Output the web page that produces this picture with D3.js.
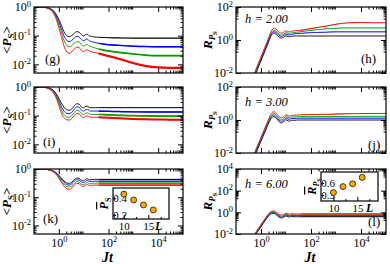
<!DOCTYPE html>
<html>
<head>
<meta charset="utf-8">
<script src="https://cdn.jsdelivr.net/npm/d3@7"></script>
<style>
  body { margin: 0; background: #fff; }
  svg { display: block; font-family: "Liberation Serif", "Times New Roman", serif; }
</style>
</head>
<body>
<svg width="390" height="264"></svg>
<script>
// Time grid (Jt) shared by all curves
const times = [0.1, 0.2, 0.3, 0.45, 0.65, 0.9, 1.2, 1.6, 2.1, 2.6, 3.3, 4.2, 5.3, 6.6, 8.2, 10, 12, 14, 17, 21, 27, 40, 70, 150, 400, 1000, 3000, 1e4, 3e4, 1e5];
const sizes = [10, 12, 14, 16];
const colors = ["#000000", "#0000ff", "#00a000", "#ff0000"];

// (g) <P_S>, h = 2.00
const gL10 = [1, 0.995, 0.97, 0.88, 0.7, 0.45, 0.26, 0.14, 0.1, 0.092, 0.1, 0.122, 0.138, 0.132, 0.108, 0.098, 0.108, 0.112, 0.098, 0.094, 0.09, 0.088, 0.086, 0.084, 0.083, 0.082, 0.082, 0.082, 0.082, 0.082];
const gL12 = [1, 0.994, 0.96, 0.86, 0.65, 0.38, 0.2, 0.1, 0.068, 0.062, 0.068, 0.083, 0.094, 0.09, 0.073, 0.066, 0.073, 0.076, 0.066, 0.062, 0.058, 0.054, 0.05, 0.047, 0.045, 0.043, 0.042, 0.041, 0.041, 0.041];
const gL14 = [1, 0.993, 0.95, 0.83, 0.6, 0.32, 0.15, 0.07, 0.045, 0.041, 0.045, 0.055, 0.062, 0.06, 0.048, 0.044, 0.048, 0.05, 0.044, 0.041, 0.038, 0.034, 0.031, 0.028, 0.025, 0.023, 0.021, 0.02, 0.02, 0.02];
const gL16 = [1, 0.992, 0.94, 0.8, 0.55, 0.26, 0.11, 0.045, 0.027, 0.024, 0.027, 0.035, 0.04, 0.038, 0.03, 0.028, 0.031, 0.032, 0.029, 0.027, 0.026, 0.024, 0.021, 0.018, 0.014, 0.011, 0.0088, 0.0078, 0.0075, 0.0075];

// (i) <P_S>, h = 3.00
const iL10 = [1, 0.995, 0.97, 0.89, 0.72, 0.48, 0.3, 0.2, 0.16, 0.155, 0.17, 0.22, 0.26, 0.25, 0.2, 0.19, 0.21, 0.215, 0.195, 0.19, 0.19, 0.19, 0.19, 0.19, 0.19, 0.19, 0.19, 0.19, 0.19, 0.19];
const iL12 = [1, 0.994, 0.96, 0.87, 0.67, 0.41, 0.23, 0.145, 0.12, 0.118, 0.13, 0.17, 0.205, 0.195, 0.155, 0.145, 0.16, 0.165, 0.15, 0.145, 0.145, 0.145, 0.142, 0.14, 0.138, 0.136, 0.135, 0.135, 0.135, 0.135];
const iL14 = [1, 0.993, 0.95, 0.84, 0.62, 0.35, 0.18, 0.11, 0.09, 0.088, 0.1, 0.13, 0.155, 0.148, 0.118, 0.11, 0.122, 0.125, 0.113, 0.11, 0.11, 0.11, 0.108, 0.105, 0.102, 0.1, 0.098, 0.097, 0.097, 0.097];
const iL16 = [1, 0.992, 0.94, 0.81, 0.57, 0.3, 0.14, 0.085, 0.072, 0.07, 0.08, 0.1, 0.12, 0.115, 0.092, 0.086, 0.095, 0.098, 0.09, 0.088, 0.088, 0.088, 0.086, 0.083, 0.08, 0.077, 0.075, 0.073, 0.072, 0.072];

// (k) <P_S>, h = 6.00
const kL10 = [1, 0.997, 0.98, 0.93, 0.82, 0.66, 0.5, 0.38, 0.32, 0.31, 0.34, 0.42, 0.48, 0.46, 0.4, 0.38, 0.43, 0.45, 0.41, 0.42, 0.43, 0.43, 0.43, 0.43, 0.43, 0.43, 0.43, 0.43, 0.43, 0.43];
const kL12 = [1, 0.997, 0.975, 0.92, 0.8, 0.63, 0.46, 0.34, 0.28, 0.27, 0.3, 0.37, 0.42, 0.4, 0.35, 0.33, 0.37, 0.39, 0.36, 0.365, 0.37, 0.37, 0.37, 0.37, 0.37, 0.37, 0.37, 0.37, 0.37, 0.37];
const kL14 = [1, 0.996, 0.973, 0.91, 0.78, 0.59, 0.41, 0.29, 0.24, 0.23, 0.25, 0.31, 0.36, 0.34, 0.29, 0.28, 0.31, 0.33, 0.3, 0.31, 0.315, 0.315, 0.315, 0.315, 0.315, 0.315, 0.315, 0.315, 0.315, 0.315];
const kL16 = [1, 0.996, 0.97, 0.9, 0.75, 0.55, 0.36, 0.25, 0.2, 0.19, 0.21, 0.27, 0.31, 0.3, 0.25, 0.24, 0.27, 0.28, 0.26, 0.265, 0.27, 0.27, 0.27, 0.27, 0.27, 0.27, 0.27, 0.27, 0.27, 0.27];

// (h) R_{P_S}, h = 2.00
const hL10 = [1e-5, 1.2e-4, 6e-4, 2.8e-3, 0.011, 0.038, 0.11, 0.32, 0.9, 1.9, 2.6, 2.1, 1.5, 1.3, 1.5, 1.8, 1.65, 1.55, 1.7, 1.75, 1.75, 1.75, 1.75, 1.75, 1.75, 1.75, 1.75, 1.75, 1.75, 1.75];
const hL12 = [1.2e-5, 1.5e-4, 7e-4, 3.3e-3, 0.013, 0.045, 0.13, 0.38, 1.1, 2.3, 3.2, 2.6, 1.9, 1.65, 1.9, 2.3, 2.1, 2.0, 2.2, 2.35, 2.45, 2.55, 2.7, 2.85, 3.0, 3.1, 3.1, 3.1, 3.1, 3.1];
const hL14 = [1.4e-5, 1.8e-4, 8.5e-4, 4e-3, 0.016, 0.054, 0.16, 0.46, 1.3, 2.8, 3.9, 3.2, 2.3, 2.0, 2.3, 2.8, 2.6, 2.5, 2.7, 2.8, 2.95, 3.2, 3.6, 4.1, 4.7, 5.2, 5.4, 5.4, 5.4, 5.4];
const hL16 = [1.6e-5, 2.1e-4, 1e-3, 4.7e-3, 0.019, 0.065, 0.19, 0.55, 1.6, 3.5, 5.2, 4.2, 3.0, 2.6, 3.0, 3.6, 3.3, 3.1, 3.4, 3.6, 3.7, 3.9, 4.5, 5.5, 7, 9, 11, 11.5, 11, 11];

// (j) R_{P_S}, h = 3.00
const jL10 = [1e-5, 1.2e-4, 6e-4, 2.8e-3, 0.011, 0.036, 0.1, 0.28, 0.72, 1.3, 1.6, 1.2, 0.8, 0.66, 0.8, 1.05, 0.9, 0.85, 0.98, 0.95, 1.0, 1.0, 1.0, 1.0, 1.0, 1.0, 1.0, 1.0, 1.0, 1.0];
const jL12 = [1.2e-5, 1.5e-4, 7e-4, 3.3e-3, 0.013, 0.043, 0.12, 0.34, 0.86, 1.6, 2.0, 1.5, 1.0, 0.84, 1.0, 1.35, 1.15, 1.1, 1.25, 1.22, 1.28, 1.3, 1.3, 1.3, 1.3, 1.3, 1.3, 1.3, 1.3, 1.3];
const jL14 = [1.4e-5, 1.8e-4, 8.5e-4, 4e-3, 0.016, 0.052, 0.145, 0.41, 1.05, 1.95, 2.5, 1.85, 1.25, 1.05, 1.25, 1.65, 1.42, 1.35, 1.55, 1.5, 1.58, 1.6, 1.6, 1.62, 1.63, 1.65, 1.65, 1.66, 1.67, 1.67];
const jL16 = [1.6e-5, 2.1e-4, 1e-3, 4.7e-3, 0.019, 0.062, 0.17, 0.5, 1.3, 2.5, 3.2, 2.35, 1.6, 1.35, 1.6, 2.1, 1.8, 1.72, 1.95, 1.9, 2.0, 2.05, 2.1, 2.15, 2.2, 2.3, 2.4, 2.45, 2.5, 2.5];

// (l) R_{P_S}, h = 6.00
const lL10 = [1e-5, 1.2e-4, 6e-4, 2.8e-3, 0.011, 0.033, 0.09, 0.23, 0.5, 0.75, 0.8, 0.55, 0.36, 0.3, 0.36, 0.46, 0.4, 0.37, 0.42, 0.39, 0.39, 0.39, 0.39, 0.39, 0.39, 0.39, 0.39, 0.39, 0.39, 0.39];
const lL12 = [1.2e-5, 1.4e-4, 7e-4, 3.3e-3, 0.013, 0.039, 0.105, 0.27, 0.6, 0.9, 0.98, 0.68, 0.45, 0.38, 0.45, 0.58, 0.5, 0.47, 0.53, 0.5, 0.5, 0.5, 0.5, 0.5, 0.5, 0.5, 0.5, 0.5, 0.5, 0.5];
const lL14 = [1.4e-5, 1.7e-4, 8e-4, 3.8e-3, 0.015, 0.045, 0.12, 0.31, 0.7, 1.05, 1.12, 0.78, 0.52, 0.44, 0.52, 0.66, 0.58, 0.54, 0.61, 0.57, 0.57, 0.57, 0.57, 0.57, 0.57, 0.57, 0.57, 0.57, 0.57, 0.57];
const lL16 = [1.6e-5, 2e-4, 9.5e-4, 4.4e-3, 0.017, 0.052, 0.14, 0.36, 0.82, 1.25, 1.35, 0.95, 0.64, 0.54, 0.64, 0.82, 0.72, 0.67, 0.76, 0.71, 0.71, 0.71, 0.71, 0.71, 0.71, 0.71, 0.71, 0.71, 0.71, 0.71];

// Half-width of the late-time fluctuations (in decades), per L
const gSpread = [0.01, 0.025, 0.03, 0.04];
const iSpread = [0.01, 0.025, 0.03, 0.035];
const kSpread = [0.01, 0.015, 0.02, 0.02];
const hSpread = [0, 0.004, 0.006, 0.01];
const jSpread = [0, 0.004, 0.006, 0.01];
const lSpread = [0.015, 0.02, 0.025, 0.03];

// Insets: time averages vs L
const insetL = [10, 12, 14, 16];
const insetPs = [0.45, 0.38, 0.32, 0.26];
const insetR = [0.36, 0.51, 0.58, 0.74];

const svg = d3.select("svg");
const xDomain = [0.1, 1e5];
const xMajor = [1, 100, 1e4];
const minorOf = (decades, lo, hi) =>
  decades.flatMap(p => d3.range(2, 10).map(k => k * Math.pow(10, p))).filter(v => v > lo && v < hi);

// superscript tick labels 10^n
function powLabels(g, size) {
  g.selectAll(".tick text").each(function (d) {
    const e = Math.round(Math.log10(d));
    const t = d3.select(this).text("10");
    t.append("tspan").attr("dy", "-0.55em").attr("font-size", size * 0.7).text(e);
  });
}

function drawPanel(p) {
  const x = d3.scaleLog().domain(xDomain).range([p.x0, p.x1]);
  const y = d3.scaleLog().domain(p.yDomain).range([p.y1, p.y0]);
  const g = svg.append("g");

  const clipId = "clip-" + p.id;
  g.append("clipPath").attr("id", clipId)
    .append("rect").attr("x", p.x0).attr("y", p.y0)
    .attr("width", p.x1 - p.x0).attr("height", p.y1 - p.y0);

  const plot = g.append("g").attr("clip-path", `url(#${clipId})`);
  const line = d3.line().x(d => x(d[0])).y(d => y(d[1])).curve(d3.curveMonotoneX);
  const band = d3.area().x(d => x(d[0]))
    .y0(d => y(d[1] * Math.pow(10, -d[2]))).y1(d => y(d[1] * Math.pow(10, d[2])))
    .curve(d3.curveMonotoneX);

  p.series.forEach((vals, i) => {
    const pts = times.map((t, k) => [t, vals[k], p.spread[i]]);
    if (p.spread[i] > 0) {
      plot.append("path").datum(pts.filter(d => d[0] >= 40))
        .attr("d", band).attr("fill", colors[i]);
    }
    plot.append("path").datum(pts)
      .attr("d", line).attr("fill", "none").attr("stroke", colors[i]).attr("stroke-width", 0.9);
  });

  // axes: major + minor ticks on all four sides, pointing inward
  const xMinor = minorOf([0, 2, 4], xDomain[0], xDomain[1]);
  const yMinor = minorOf(p.yMinorDecades, p.yDomain[0], p.yDomain[1]);
  const fs = 12;

  const bottom = g.append("g").attr("transform", `translate(0,${p.y1})`)
    .call(d3.axisBottom(x).tickValues(xMajor).tickSize(-5).tickPadding(4));
  if (p.xLabels) powLabels(bottom, fs); else bottom.selectAll("text").remove();
  g.append("g").attr("transform", `translate(0,${p.y1})`)
    .call(d3.axisBottom(x).tickValues(xMinor).tickSize(-2.5).tickFormat(""));
  g.append("g").attr("transform", `translate(0,${p.y0})`)
    .call(d3.axisTop(x).tickValues(xMajor).tickSize(-5).tickFormat(""));
  g.append("g").attr("transform", `translate(0,${p.y0})`)
    .call(d3.axisTop(x).tickValues(xMinor).tickSize(-2.5).tickFormat(""));

  const left = g.append("g").attr("transform", `translate(${p.x0},0)`)
    .call(d3.axisLeft(y).tickValues(p.yMajor).tickSize(-5).tickPadding(3));
  powLabels(left, fs);
  g.append("g").attr("transform", `translate(${p.x0},0)`)
    .call(d3.axisLeft(y).tickValues(yMinor).tickSize(-2.5).tickFormat(""));
  g.append("g").attr("transform", `translate(${p.x1},0)`)
    .call(d3.axisRight(y).tickValues(p.yMajor).tickSize(-5).tickFormat(""));
  g.append("g").attr("transform", `translate(${p.x1},0)`)
    .call(d3.axisRight(y).tickValues(yMinor).tickSize(-2.5).tickFormat(""));

  g.selectAll(".domain").remove();
  g.selectAll(".tick line").attr("stroke", "#000").attr("stroke-width", 1);
  g.selectAll(".tick text").attr("font-size", fs).attr("fill", "#000")
    .attr("font-family", "Liberation Serif, serif");

  g.append("rect").attr("x", p.x0).attr("y", p.y0)
    .attr("width", p.x1 - p.x0).attr("height", p.y1 - p.y0)
    .attr("fill", "none").attr("stroke", "#000").attr("stroke-width", 1.2);

  // panel letter
  g.append("text").attr("x", p.tagX).attr("y", p.tagY)
    .attr("font-size", 13).text(p.tag);

  if (p.hText) {
    g.append("text").attr("x", p.x0 + 9).attr("y", p.hY)
      .attr("font-size", 12.5).attr("font-style", "italic").text(p.hText);
  }

  // y axis title
  const yt = g.append("text")
    .attr("transform", `translate(${p.yTitleX},${(p.y0 + p.y1) / 2}) rotate(-90)`)
    .attr("text-anchor", "middle").attr("font-size", 13).attr("font-weight", "bold");
  if (p.kind === "P") {
    yt.append("tspan").text("<");
    yt.append("tspan").attr("font-style", "italic").text("P");
    yt.append("tspan").attr("font-size", 9).attr("dy", 3).text("S");
    yt.append("tspan").attr("dy", -3).text(">");
  } else {
    yt.append("tspan").attr("font-style", "italic").text("R");
    yt.append("tspan").attr("font-style", "italic").attr("font-size", 9).attr("dy", 3).text("P");
    yt.append("tspan").attr("font-size", 7).attr("dy", 2).text("S");
  }

  if (p.xLabels) {
    g.append("text").attr("x", (p.x0 + p.x1) / 2 - 1).attr("y", 262)
      .attr("text-anchor", "middle").attr("font-size", 14)
      .attr("font-weight", "bold").attr("font-style", "italic").text("Jt");
  }
  return { x, y, g };
}

const L0 = 34, L1 = 183, R0 = 236, R1 = 386;
const rows = [[7, 73], [87, 153], [169, 234]];
const pDomain = [0.005, 1];

drawPanel({ id: "g", x0: L0, x1: L1, y0: rows[0][0], y1: rows[0][1], yDomain: pDomain,
  yMajor: [1, 0.1, 0.01], yMinorDecades: [-1, -2, -3], series: [gL10, gL12, gL14, gL16], spread: gSpread,
  tag: "(g)", tagX: 45, tagY: 63, kind: "P", yTitleX: 11 });
drawPanel({ id: "i", x0: L0, x1: L1, y0: rows[1][0], y1: rows[1][1], yDomain: pDomain,
  yMajor: [1, 0.1, 0.01], yMinorDecades: [-1, -2, -3], series: [iL10, iL12, iL14, iL16], spread: iSpread,
  tag: "(i)", tagX: 43, tagY: 146, kind: "P", yTitleX: 11 });
drawPanel({ id: "k", x0: L0, x1: L1, y0: rows[2][0], y1: rows[2][1], yDomain: pDomain,
  yMajor: [1, 0.1, 0.01], yMinorDecades: [-1, -2, -3], series: [kL10, kL12, kL14, kL16], spread: kSpread,
  tag: "(k)", tagX: 43, tagY: 223, kind: "P", yTitleX: 11, xLabels: true });

drawPanel({ id: "h", x0: R0, x1: R1, y0: rows[0][0], y1: rows[0][1], yDomain: [0.01, 100],
  yMajor: [100, 1, 0.01], yMinorDecades: [1, -1], series: [hL10, hL12, hL14, hL16], spread: hSpread,
  tag: "(h)", tagX: 361, tagY: 63, kind: "R", yTitleX: 212, hText: "h = 2.00", hY: 23 });
drawPanel({ id: "j", x0: R0, x1: R1, y0: rows[1][0], y1: rows[1][1], yDomain: [0.01, 100],
  yMajor: [100, 1, 0.01], yMinorDecades: [1, -1], series: [jL10, jL12, jL14, jL16], spread: jSpread,
  tag: "(j)", tagX: 368, tagY: 149, kind: "R", yTitleX: 212, hText: "h = 3.00", hY: 106 });
drawPanel({ id: "l", x0: R0, x1: R1, y0: rows[2][0], y1: rows[2][1], yDomain: [0.01, 1e4],
  yMajor: [1e4, 100, 1, 0.01], yMinorDecades: [3, 1, -1], series: [lL10, lL12, lL14, lL16], spread: lSpread,
  tag: "(l)", tagX: 368, tagY: 226, kind: "R", yTitleX: 212, hText: "h = 6.00", hY: 188, xLabels: true });

// insets: white box, tick labels sit just inside the left edge
function drawInset(o) {
  const x = d3.scaleLinear().domain(o.xDomain).range([o.x0, o.x1]);
  const y = d3.scaleLinear().domain(o.yDomain).range([o.y1, o.y0]);
  const g = svg.append("g");
  g.append("rect").attr("x", o.x0).attr("y", o.y0).attr("width", o.x1 - o.x0).attr("height", o.y1 - o.y0)
    .attr("fill", "#fff").attr("stroke", "#000").attr("stroke-width", 1.2);
  g.append("g").attr("transform", `translate(0,${o.y1})`)
    .call(d3.axisBottom(x).tickValues([10, 15]).tickSize(-4).tickPadding(3));
  g.append("g").attr("transform", `translate(0,${o.y1})`)
    .call(d3.axisBottom(x).tickValues([12.5, 17.5]).tickSize(-2).tickFormat(""));
  g.append("g").attr("transform", `translate(${o.x0},0)`)
    .call(d3.axisLeft(y).tickValues(o.yTicks).tickSize(-3).tickFormat(""));
  g.append("g").attr("transform", `translate(${o.x0 + o.labelInset},0)`)
    .call(d3.axisLeft(y).tickValues(o.yTicks).tickSize(0).tickPadding(0).tickFormat(d3.format(".1f")));
  g.selectAll(".domain").remove();
  g.selectAll(".tick line").attr("stroke", "#000");
  g.selectAll(".tick text").attr("font-size", 11).attr("fill", "#000").attr("font-family", "Liberation Serif, serif");
  g.selectAll("circle").data(o.values).enter().append("circle")
    .attr("cx", (d, i) => x(insetL[i])).attr("cy", d => y(d)).attr("r", 3)
    .attr("fill", "#ffa500").attr("stroke", "#000").attr("stroke-width", 0.7);
  g.append("text").attr("x", o.Lx).attr("y", o.y1 + 11).attr("font-size", 12)
    .attr("font-weight", "bold").attr("font-style", "italic").text("L");
  const t = g.append("text")
    .attr("transform", `translate(${o.titleX},${(o.y0 + o.y1) / 2}) rotate(-90)`)
    .attr("text-anchor", "middle").attr("font-size", 12).attr("font-weight", "bold");
  t.append("tspan").attr("font-style", "italic").attr("text-decoration", "overline").text(o.sym);
  if (o.sym === "P") {
    t.append("tspan").attr("font-size", 8).attr("dy", 3).text("S");
  } else {
    t.append("tspan").attr("font-style", "italic").attr("font-size", 8).attr("dy", 3).text("P");
    t.append("tspan").attr("font-size", 6).attr("dy", 2).text("S");
  }
}

drawInset({ x0: 113, x1: 169, y0: 188, y1: 219, xDomain: [7.8, 19.2], yDomain: [0.152, 0.523],
  yTicks: [0.2, 0.4], values: insetPs, Lx: 155, titleX: 108, sym: "P", labelInset: 14 });
drawInset({ x0: 321, x1: 378, y0: 172, y1: 201, xDomain: [7.4, 19.3], yDomain: [0.15, 0.875],
  yTicks: [0.3, 0.6], values: insetR, Lx: 366, titleX: 316, sym: "R", labelInset: 14 });
</script>
</body>
</html>
